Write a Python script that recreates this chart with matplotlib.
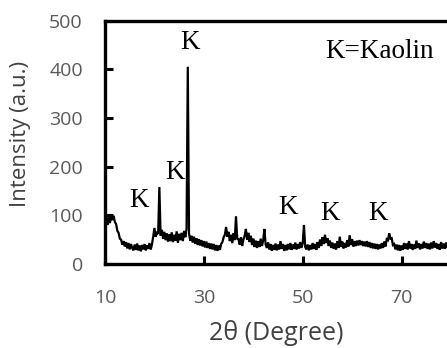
import numpy as np
import matplotlib
matplotlib.use("Agg")
import matplotlib.pyplot as plt

# XRD pattern: intensity sampled every 0.25 degree starting at 10 degrees 2theta
two_theta_start = 10.0
two_theta_step = 0.25
intensity = [
    76, 94, 80, 98, 84, 101, 90, 99,           # 10-11.75
    86, 82, 68, 64, 52, 50, 40, 47,            # 12-13.75
    36, 45, 32, 43, 30, 41, 33, 28,            # 14-15.75
    40, 29, 42, 28, 38, 26, 39, 30,            # 16-17.75
    41, 28, 38, 31, 43, 30, 40, 56,            # 18-19.75
    74, 56, 64, 62, 158, 58, 70, 52,           # 20-21.75
    66, 49, 63, 46, 61, 47, 65, 45,            # 22-23.75
    60, 48, 67, 44, 62, 49, 64, 47,            # 24-25.75
    68, 55, 72, 405, 62, 48, 58, 44,           # 26-27.75
    56, 42, 53, 39, 51, 38, 49, 36,            # 28-29.75
    47, 34, 46, 33, 43, 31, 42, 30,            # 30-31.75
    41, 28, 39, 27, 38, 29, 41, 45,            # 32-33.75
    55, 60, 76, 56, 66, 47, 60, 43,            # 34-35.75
    63, 49, 98, 52, 51, 40, 55, 37,            # 36-37.75
    50, 58, 72, 50, 64, 45, 58, 39,            # 38-39.75
    52, 35, 48, 33, 47, 35, 52, 37,            # 40-41.75
    48, 72, 40, 33, 44, 30, 41, 27,            # 42-43.75
    39, 29, 42, 28, 40, 30, 47, 31,            # 44-45.75
    41, 27, 39, 28, 41, 30, 43, 29,            # 46-47.75
    40, 31, 44, 30, 41, 32, 45, 33,            # 48-49.75
    43, 80, 35, 30, 40, 28, 39, 30,            # 50-51.75
    43, 31, 41, 29, 45, 33, 50, 37,            # 52-53.75
    55, 41, 60, 43, 53, 37, 48, 33,            # 54-55.75
    44, 31, 42, 30, 47, 33, 56, 35,            # 56-57.75
    46, 32, 43, 34, 49, 36, 59, 39,            # 58-59.75
    51, 36, 47, 37, 48, 38, 49, 39,            # 60-61.75
    47, 37, 46, 36, 47, 35, 45, 33,            # 62-63.75
    43, 32, 42, 31, 41, 30, 40, 32,            # 64-65.75
    43, 33, 46, 36, 51, 49, 63, 52,            # 66-67.75
    53, 39, 41, 30, 40, 28, 39, 27,            # 68-69.75
    38, 29, 43, 31, 42, 30, 47, 32,            # 70-71.75
    41, 29, 40, 31, 48, 33, 42, 30,            # 72-73.75
    41, 32, 46, 33, 43, 31, 42, 30,            # 74-75.75
    44, 32, 47, 34, 43, 31, 41, 29,            # 76-77.75
    45, 32, 42, 31, 44, 33, 43, 32,            # 78-79.75
    40,                                        # 80
]

# Peak annotations
label_text = ["K", "K", "K", "K", "K", "K"]
label_x = [16.9, 24.2, 27.2, 47.0, 55.5, 65.3]
label_y = [131, 187, 455, 115, 103, 103]
legend_text = "K=Kaolin"
legend_xy = (65.6, 437)

x_ticks = [10, 30, 50, 70]
y_ticks = [0, 100, 200, 300, 400, 500]

two_theta = two_theta_start + two_theta_step * np.arange(len(intensity))

fig = plt.figure(figsize=(4.47, 3.48), dpi=100)
ax_w = 346 / 447
ax_h = (264 - 20.5) / 348
ax = fig.add_axes([105 / 447, 1 - 264 / 348, ax_w, ax_h])

ax.plot(two_theta, intensity, color="black", lw=1.6, solid_joinstyle="miter")

ax.set_xlim(10, 80)
ax.set_ylim(0, 500)
ax.set_xticks(x_ticks)
ax.set_yticks(y_ticks)

tick_color = "#595959"
for s in ["left", "bottom", "top"]:
    ax.spines[s].set_linewidth(2.4)
    ax.spines[s].set_color("black")
ax.spines["right"].set_visible(False)

ax.tick_params(direction="in", length=5.5, width=2.2, color="black",
               labelcolor=tick_color, labelsize=14)
ax.tick_params(axis="y", pad=16)
ax.tick_params(axis="x", pad=18)
for lab in ax.get_xticklabels() + ax.get_yticklabels():
    lab.set_family("Open Sans")

ax.set_xlabel("2θ (Degree)", fontsize=18, color="#404040", family="Open Sans")
ax.set_ylabel("Intensity (a.u.)", fontsize=16, color="#404040", family="Open Sans")
ax.xaxis.label.set_va("center")
ax.yaxis.label.set_va("center")
ax.xaxis.set_label_coords((276.5 - 105) / 346, (264 - 333.5) / 243.5)
ax.yaxis.set_label_coords((20.5 - 105) / 346, (264 - 134) / 243.5)

for t, xv, yv in zip(label_text, label_x, label_y):
    ax.text(xv, yv, t, ha="center", va="center", fontsize=19.5,
            family="Liberation Serif", color="black")
ax.text(legend_xy[0], legend_xy[1], legend_text, ha="center", va="center",
        fontsize=19.5, family="Liberation Serif", color="black")

fig.savefig("out.png", dpi=100)
